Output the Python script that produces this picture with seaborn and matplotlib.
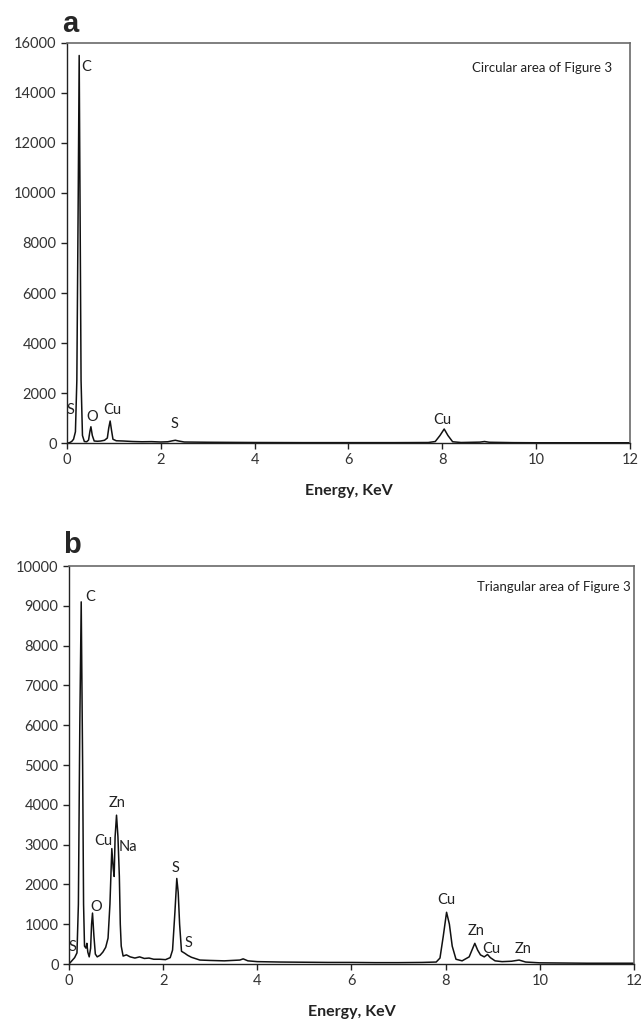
import matplotlib
matplotlib.use("Agg")
import matplotlib.pyplot as plt
import seaborn as sns
import pandas as pd

# panel a - circular area
energy_a = [0.00, 0.05, 0.10, 0.14, 0.18, 0.21, 0.24, 0.26, 0.28, 0.30, 0.33, 0.37,
            0.42, 0.46, 0.49, 0.51, 0.54, 0.58, 0.65, 0.72, 0.80, 0.86, 0.89, 0.92,
            0.95, 0.98, 1.05, 1.20, 1.40, 1.60, 1.80, 2.00, 2.15, 2.25, 2.31, 2.38,
            2.50, 3.00, 3.50, 4.00, 5.00, 6.00, 7.00, 7.70, 7.85, 7.95, 8.04, 8.12,
            8.22, 8.40, 8.80, 8.90, 9.00, 9.50, 10.00, 11.00, 12.00]
counts_a = [0, 10, 60, 150, 450, 2500, 10000, 15500, 9000, 2500, 300, 60,
            50, 120, 480, 650, 300, 80, 70, 80, 110, 200, 600, 880,
            500, 150, 90, 80, 60, 50, 55, 40, 50, 90, 110, 80,
            40, 30, 25, 20, 15, 15, 15, 20, 60, 300, 560, 300,
            50, 20, 35, 60, 30, 15, 10, 10, 10]

# panel b - triangular area
energy_b = [0.00, 0.06, 0.12, 0.17, 0.20, 0.23, 0.26, 0.29, 0.31, 0.33, 0.36, 0.38,
            0.40, 0.43, 0.46, 0.48, 0.50, 0.53, 0.56, 0.60, 0.66, 0.72, 0.78, 0.83,
            0.87, 0.91, 0.94, 0.96, 0.98, 1.01, 1.04, 1.07, 1.09, 1.11, 1.15, 1.22,
            1.30, 1.40, 1.50, 1.60, 1.70, 1.80, 1.93, 2.05, 2.15, 2.20, 2.25, 2.29,
            2.32, 2.35, 2.39, 2.46, 2.52, 2.60, 2.78, 3.00, 3.30, 3.63, 3.70, 3.80,
            4.00, 4.50, 5.00, 5.50, 6.00, 6.50, 7.00, 7.50, 7.80, 7.88, 7.95, 8.02,
            8.08, 8.14, 8.22, 8.35, 8.50, 8.57, 8.62, 8.68, 8.74, 8.82, 8.89, 8.95,
            9.05, 9.20, 9.40, 9.56, 9.70, 10.00, 10.50, 11.00, 11.50, 12.00]
counts_b = [0, 80, 160, 280, 1500, 6000, 9100, 5000, 1500, 450, 400, 520,
            300, 180, 400, 1000, 1280, 700, 250, 180, 220, 300, 420, 650,
            1500, 2900, 2400, 2200, 3200, 3740, 3200, 2200, 1000, 450, 200, 230,
            180, 150, 180, 140, 150, 120, 120, 110, 160, 350, 1300, 2150,
            1800, 1000, 320, 270, 220, 170, 100, 90, 80, 100, 130, 80,
            60, 50, 45, 40, 40, 35, 35, 40, 50, 150, 700, 1300,
            1000, 450, 120, 80, 180, 380, 520, 350, 230, 180, 240, 160,
            80, 60, 70, 100, 50, 30, 25, 20, 20, 20]

labels_a = ["C", "S", "O", "Cu", "S", "Cu"]
lab_x_a = [0.40, 0.08, 0.53, 0.96, 2.30, 8.01]
lab_y_a = [15040, 1320, 1040, 1320, 760, 920]

labels_b = ["C", "Zn", "Cu", "Na", "O", "S", "S", "S", "Cu", "Zn", "Cu", "Zn"]
lab_x_b = [0.45, 1.02, 0.72, 1.25, 0.59, 0.07, 2.27, 2.53, 8.02, 8.65, 8.98, 9.64]
lab_y_b = [9220, 4045, 3090, 2940, 1430, 430, 2410, 530, 1600, 830, 380, 380]

sns.set_style("ticks")
plt.rcParams['font.family'] = ['Lato', 'DejaVu Sans']

fig = plt.figure(figsize=(6.41, 10.21), dpi=100)
ax1 = fig.add_axes([0.1045, 0.5661, 0.8783, 0.3918])
ax2 = fig.add_axes([0.1076, 0.0558, 0.8814, 0.3898])

df_a = pd.DataFrame({"energy": energy_a, "counts": counts_a})
df_b = pd.DataFrame({"energy": energy_b, "counts": counts_b})

panels = [
    (ax1, df_a, 16000, 2000, labels_a, lab_x_a, lab_y_a, "Circular area of Figure 3", 11.62, 15000, "a"),
    (ax2, df_b, 10000, 1000, labels_b, lab_x_b, lab_y_b, "Triangular area of Figure 3", 11.93, 9470, "b"),
]

for ax, df, ymax, ystep, labs, lx, ly, note, nx, ny, letter in panels:
    sns.lineplot(data=df, x="energy", y="counts", ax=ax, color="#111111",
                 linewidth=1.1, sort=False, estimator=None)
    ax.set_xlim(0, 12)
    ax.set_ylim(0, ymax)
    ax.set_xticks(range(0, 13, 2))
    ax.set_yticks(range(0, ymax + 1, ystep))
    ax.tick_params(axis="both", labelsize=10.5, colors="#222222", length=4, width=1)
    ax.tick_params(axis="both", labelcolor="#333333")
    for side in ["top", "right"]:
        ax.spines[side].set_visible(True)
        ax.spines[side].set_color("#6a6a6a")
        ax.spines[side].set_linewidth(1.2)
    for side in ["left", "bottom"]:
        ax.spines[side].set_color("#222222")
        ax.spines[side].set_linewidth(1.0)
    ax.set_xlabel("Energy, KeV", fontsize=11.5, fontweight="bold", color="#222222")
    ax.xaxis.set_label_coords(0.5, -0.103)
    ax.set_ylabel("")
    for t, x, y in zip(labs, lx, ly):
        ax.text(x, y, t, fontsize=10.5, ha="center", va="center", color="#222222")
    ax.text(nx, ny, note, fontsize=9.5, ha="right", va="center", color="#222222")

fig.text(0.0967, 0.9687, "a", fontsize=21, fontweight="bold",
         family=["Liberation Sans", "DejaVu Sans"], ha="left", va="baseline")
fig.text(0.098, 0.4584, "b", fontsize=21, fontweight="bold",
         family=["Liberation Sans", "DejaVu Sans"], ha="left", va="baseline")

fig.savefig("out.png", dpi=100)
